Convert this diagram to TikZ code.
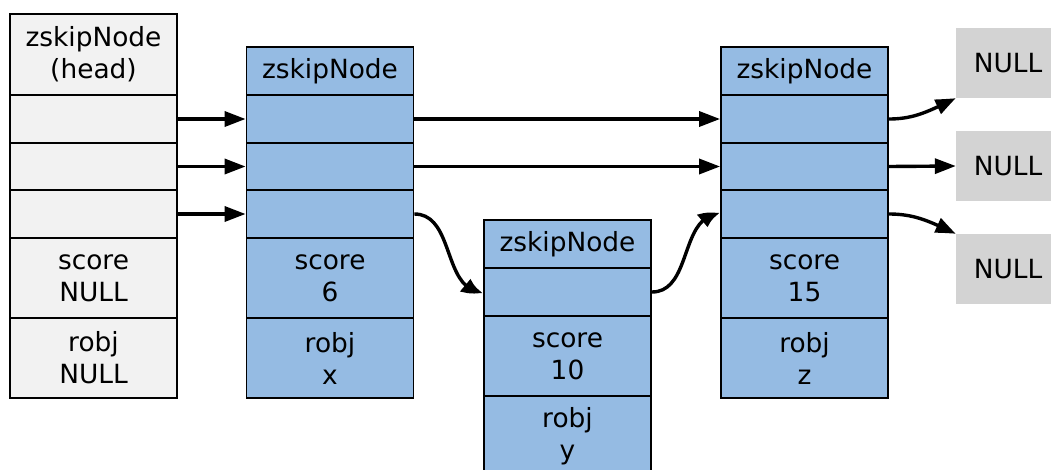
\documentclass[tikz,border=0pt]{standalone}
\usepackage{fontspec}
\setmainfont{DejaVu Sans}
\usetikzlibrary{arrows.meta,bending}
\definecolor{headgray}{HTML}{F2F2F2}
\definecolor{nodeblue}{HTML}{95BBE3}
\definecolor{nullgray}{HTML}{D3D3D3}
\tikzset{
  cell/.style={draw=black, line width=1.8pt, minimum width=#1, inner sep=0pt, align=center,
    font=\fontsize{26.4}{32}\selectfont},
  hcell/.style={cell=167pt, fill=headgray},
  bcell/.style={cell=167pt, fill=nodeblue},
  nullbox/.style={fill=nullgray, minimum width=104pt, minimum height=70pt, inner sep=0pt,
    font=\fontsize{26.4}{32}\selectfont},
  link/.style={line width=3.4pt, -{Triangle[length=21pt,width=15pt,bend]}},
}
\begin{document}
\begin{tikzpicture}[x=1pt,y=-1pt]
\clip (0,0) rectangle (1051,469);
\fill[white] (0,0) rectangle (1051,469);
% head
\node[hcell, minimum height=81pt] (h0) at (93.5,54.5) {zskipNode\\(head)};
\node[hcell, minimum height=48pt] (h1) at (93.5,119) {};
\node[hcell, minimum height=47pt] (h2) at (93.5,166.5) {};
\node[hcell, minimum height=48pt] (h3) at (93.5,214) {};
\node[hcell, minimum height=80pt] (h4) at (93.5,278) {score\\NULL};
\node[hcell, minimum height=80pt] (h5) at (93.5,358) {robj\\NULL};
% node x
\node[bcell, minimum height=48pt] (x0) at (330,71) {zskipNode};
\node[bcell, minimum height=48pt] (x1) at (330,119) {};
\node[bcell, minimum height=47pt] (x2) at (330,166.5) {};
\node[bcell, minimum height=48pt] (x3) at (330,214) {};
\node[bcell, minimum height=80pt] (x4) at (330,278) {score\\6};
\node[bcell, minimum height=80pt] (x5) at (330,358) {robj\\x};
% node y
\node[bcell, minimum height=48pt] (y0) at (567.5,244) {zskipNode};
\node[bcell, minimum height=48pt] (y1) at (567.5,292) {};
\node[bcell, minimum height=80pt] (y2) at (567.5,356) {score\\10};
\node[bcell, minimum height=80pt] (y3) at (567.5,436) {robj\\y};
% node z
\node[bcell, minimum height=48pt] (z0) at (804.5,71) {zskipNode};
\node[bcell, minimum height=48pt] (z1) at (804.5,119) {};
\node[bcell, minimum height=47pt] (z2) at (804.5,166.5) {};
\node[bcell, minimum height=48pt] (z3) at (804.5,214) {};
\node[bcell, minimum height=80pt] (z4) at (804.5,278) {score\\15};
\node[bcell, minimum height=80pt] (z5) at (804.5,358) {robj\\z};
% NULL boxes
\node[nullbox] (n1) at (1008,63) {NULL};
\node[nullbox] (n2) at (1008,166) {NULL};
\node[nullbox] (n3) at (1008,269) {NULL};
% links
\draw[link] (h1.east) -- (x1.west);
\draw[link] (h2.east) -- (x2.west);
\draw[link] (h3.east) -- (x3.west);
\draw[link] (x1.east) -- (z1.west);
\draw[link] (x2.east) -- (z2.west);
\draw[link] (x3.east) to[out=0,in=180] (y1.west);
\draw[link] (y1.east) to[out=0,in=180] (z3.west);
\draw[link] (z1.east) to[out=0,in=205] (n1.south west);
\draw[link] (z2.east) -- (n2.west);
\draw[link] (z3.east) to[out=0,in=155] (n3.north west);
\end{tikzpicture}
\end{document}
